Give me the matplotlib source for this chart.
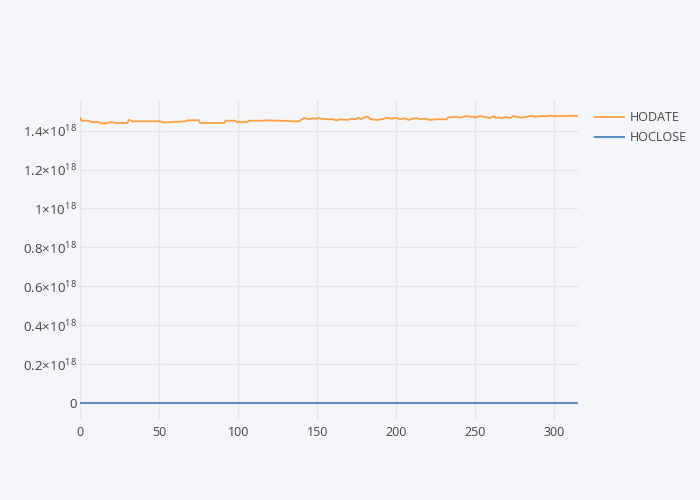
import matplotlib.pyplot as plt
from matplotlib.ticker import FixedLocator

# === DATA ===
x_pts = [0, 1, 6, 7, 12, 13, 17, 18, 21, 22, 30, 31, 33, 51, 52, 57, 58, 67, 68, 75,
         76, 91, 92, 98, 99, 106, 107, 116, 117, 132, 133, 139, 140, 142, 145, 147, 149, 151, 153, 155,
         156, 160, 162, 165, 169, 172, 174, 176, 178, 180, 182, 184, 188, 191, 194, 197, 200, 202, 205, 208,
         210, 211, 213, 215, 218, 221, 225, 232, 233, 235, 238, 241, 244, 247, 251, 253, 256, 259, 262, 263,
         265, 267, 269, 272, 274, 276, 279, 282, 285, 288, 292, 295, 298, 301, 304, 307, 311, 314, 315]
hodate = [1.4653, 1.4514, 1.4514, 1.4447, 1.4447, 1.4380, 1.4380, 1.4432, 1.4432, 1.4396, 1.4396, 1.4566, 1.4483, 1.4483, 1.4432, 1.4432, 1.4447, 1.4483, 1.4535, 1.4535,
          1.4396, 1.4396, 1.4514, 1.4514, 1.4447, 1.4447, 1.4514, 1.4514, 1.4535, 1.4500, 1.4483, 1.4483, 1.4566, 1.4653, 1.4586, 1.4638, 1.4617, 1.4653, 1.4602, 1.4617,
          1.4586, 1.4586, 1.4535, 1.4586, 1.4550, 1.4617, 1.4586, 1.4668, 1.4586, 1.4689, 1.4720, 1.4586, 1.4550, 1.4586, 1.4653, 1.4617, 1.4653, 1.4586, 1.4638, 1.4550,
          1.4617, 1.4617, 1.4653, 1.4586, 1.4617, 1.4550, 1.4586, 1.4586, 1.4704, 1.4689, 1.4720, 1.4668, 1.4756, 1.4720, 1.4689, 1.4756, 1.4704, 1.4653, 1.4740, 1.4653,
          1.4689, 1.4638, 1.4704, 1.4653, 1.4756, 1.4720, 1.4668, 1.4704, 1.4756, 1.4720, 1.4756, 1.4740, 1.4771, 1.4740, 1.4756, 1.4756, 1.4771, 1.4756, 1.4740]
hodate = [v * 1e18 for v in hodate]
hoclose = [0.0 for _ in x_pts]

y_ticks = [0, 0.2e18, 0.4e18, 0.6e18, 0.8e18, 1.0e18, 1.2e18, 1.4e18]
y_labels = ["0", "0.2", "0.4", "0.6", "0.8", "1", "1.2", "1.4"]
x_ticks = [0, 50, 100, 150, 200, 250, 300]

# === STYLE ===
plt.rcParams["font.family"] = ["Open Sans", "DejaVu Sans"]
plt.rcParams["mathtext.fontset"] = "custom"
plt.rcParams["mathtext.rm"] = "Open Sans"
plt.rcParams["mathtext.it"] = "Open Sans"
bg = "#f5f6f9"
grid = "#e3e6eb"
txt = "#444444"

fig = plt.figure(figsize=(7, 5), dpi=100, facecolor=bg)
ax = fig.add_axes([80 / 700, 80 / 500, 498 / 700, 320 / 500], facecolor=bg)

ax.plot(x_pts, hodate, color="#ff9f40", lw=1.3, label="HODATE")
ax.plot(x_pts, hoclose, color="#5b8ec6", lw=1.5, label="HOCLOSE")

ax.set_xlim(0, 315)
ax.set_ylim(-0.0874e18, 1.5578e18)
ax.xaxis.set_major_locator(FixedLocator(x_ticks))
ax.yaxis.set_major_locator(FixedLocator(y_ticks))
ax.set_xticklabels([str(t) for t in x_ticks])
ax.set_yticklabels([l if l == "0" else r"$\mathregular{" + l + r"×10^{18}}$" for l in y_labels])
ax.tick_params(length=0, colors=txt)
ax.tick_params(axis="y", pad=2, labelsize=9.6)
ax.tick_params(axis="x", pad=4, labelsize=9)
ax.grid(True, color=grid, lw=1)
ax.set_axisbelow(True)
for s in ax.spines.values():
    s.set_visible(False)

leg = ax.legend(loc="upper left", bbox_to_anchor=(589 / 700, 1 - 105 / 500),
                bbox_transform=fig.transFigure, frameon=False, fontsize=9,
                handlelength=2.3, handletextpad=0.45, labelspacing=0.55, borderpad=0)
for t in leg.get_texts():
    t.set_color(txt)

plt.savefig("out.png", dpi=100, facecolor=bg)
